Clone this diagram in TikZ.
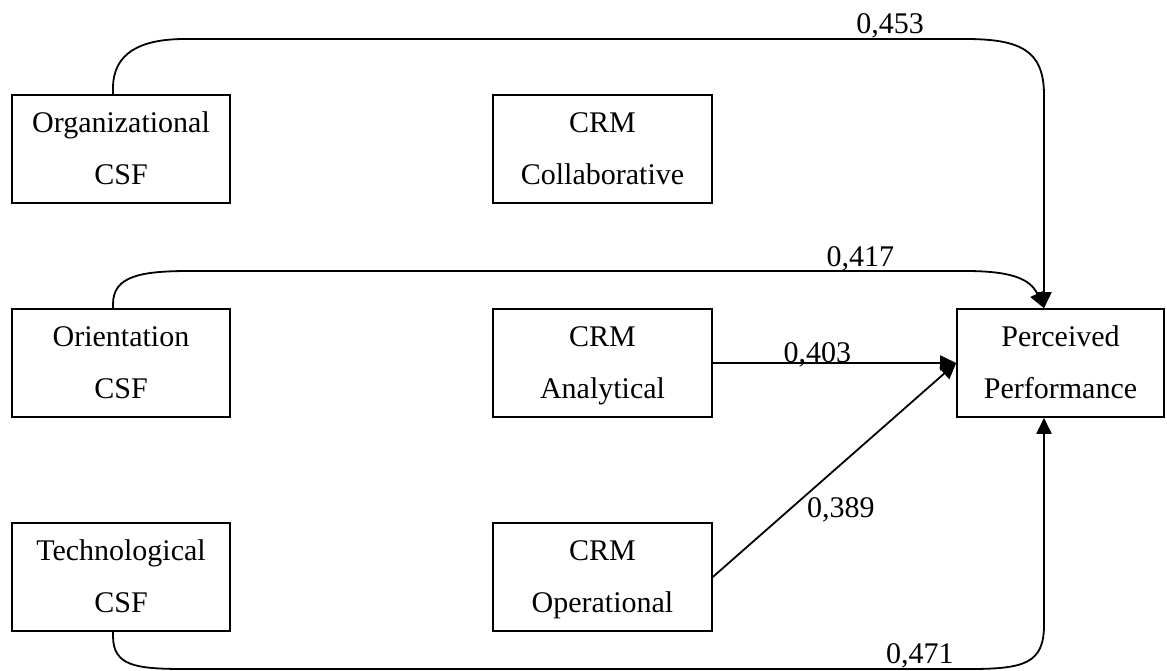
\documentclass[tikz,border=0pt]{standalone}
\usepackage{fontspec}
\setmainfont{Liberation Serif}
\usetikzlibrary{arrows.meta}
\begin{document}
\begin{tikzpicture}[x=1pt,y=-1pt,
  box/.style={draw, line width=1.6pt, minimum width=218pt, minimum height=108pt,
    align=center, inner sep=0pt, text height=75pt, text depth=4pt,
    font=\fontsize{30}{52}\selectfont},
  link/.style={line width=1.8pt, -{Triangle[length=16pt,width=15pt]}},
  coef/.style={font=\fontsize{30}{36}\selectfont, inner sep=0pt}]
\useasboundingbox (0,0) rectangle (1167,671);

% constructs
\node[box] (org) at (121,149) {Organizational\\CSF};
\node[box] (ori) at (121,363) {Orientation\\CSF};
\node[box] (tec) at (121,577) {Technological\\CSF};
\node[box, minimum width=219pt] (col) at (602.5,149) {CRM\\Collaborative};
\node[box, minimum width=219pt] (ana) at (602.5,363) {CRM\\Analytical};
\node[box, minimum width=219pt] (ope) at (602.5,577) {CRM\\Operational};
\node[box, minimum width=207pt] (pp) at (1060.5,363) {Perceived\\Performance};

% entry points on the outcome box
\coordinate (ppTop) at ([xshift=-16.5pt]pp.north);
\coordinate (ppBot) at ([xshift=-16.5pt]pp.south);

% paths with coefficients
\draw[link] ([xshift=-8pt]org.north) -- ++(0,-6)
  .. controls +(0,-35) and +(-45,0) .. (185,39)
  -- node[coef, pos=0.904, anchor=base, yshift=5pt] {0,453} (965,39)
  .. controls +(55,0) and +(0,-45) .. (1044,95) -- (ppTop);

\draw[link] ([xshift=-8pt]ori.north) -- ++(0,-4)
  .. controls +(0,-28) and +(-50,0) .. (190,271)
  -- node[coef, pos=0.865, anchor=base, yshift=5pt] {0,417} (965,271)
  .. controls +(45,0) and +(-14,-30) .. (ppTop);

\draw[link] (ana) -- node[coef, pos=0.43, anchor=base, yshift=1pt] {0,403} (pp);

\draw[link] (ope.east) -- node[coef, pos=0.38, anchor=north west, inner sep=1pt] {0,389} (pp.west);

\draw[link] ([xshift=-8pt]tec.south) -- ++(0,4)
  .. controls +(0,30) and +(-50,0) .. (185,669)
  -- node[coef, pos=0.936, anchor=base, yshift=6pt] {0,471} (970,669)
  .. controls +(55,0) and +(0,38) .. (1044,625) -- (ppBot);
\end{tikzpicture}
\end{document}
